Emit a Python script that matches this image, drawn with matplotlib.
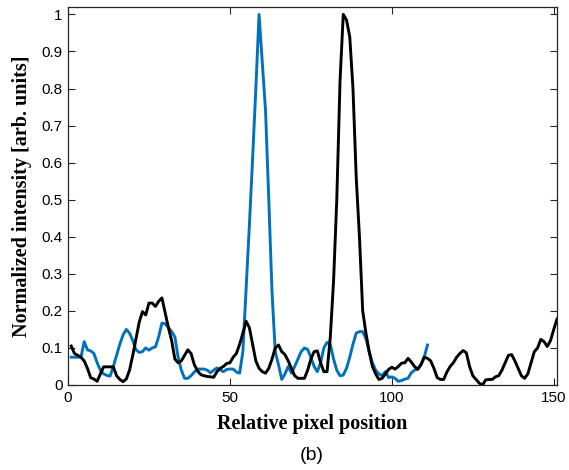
import matplotlib
matplotlib.use("Agg")
import matplotlib.pyplot as plt

# Black curve (relative pixel position, normalized intensity)
black_x = list(range(1, 152))
black_y = [0.105, 0.085, 0.08, 0.075, 0.065, 0.045, 0.02, 0.016, 0.01, 0.03,
           0.049, 0.049, 0.049, 0.049, 0.025, 0.015, 0.009, 0.016, 0.04, 0.08,
           0.125, 0.17, 0.198, 0.189, 0.221, 0.221, 0.212, 0.226, 0.235, 0.195,
           0.155, 0.12, 0.07, 0.06, 0.065, 0.08, 0.095, 0.085, 0.055, 0.038,
           0.028, 0.025, 0.023, 0.022, 0.021, 0.036, 0.045, 0.05, 0.058, 0.06,
           0.075, 0.085, 0.11, 0.14, 0.172, 0.155, 0.11, 0.065, 0.045, 0.036,
           0.032, 0.045, 0.07, 0.1, 0.108, 0.09, 0.082, 0.065, 0.045, 0.025,
           0.018, 0.018, 0.018, 0.04, 0.07, 0.09, 0.092, 0.06, 0.036, 0.036,
           0.13, 0.28, 0.5, 0.82, 1.0, 0.985, 0.94, 0.8, 0.56, 0.4,
           0.2, 0.14, 0.09, 0.05, 0.03, 0.015, 0.018, 0.03, 0.042, 0.048,
           0.043, 0.05, 0.059, 0.06, 0.072, 0.062, 0.05, 0.042, 0.055, 0.075,
           0.072, 0.065, 0.045, 0.02, 0.015, 0.015, 0.035, 0.05, 0.06, 0.075,
           0.085, 0.093, 0.087, 0.05, 0.025, 0.015, 0.005, 0.0, 0.014, 0.015,
           0.015, 0.022, 0.025, 0.04, 0.06, 0.08, 0.082, 0.065, 0.045, 0.025,
           0.018, 0.03, 0.06, 0.09, 0.1, 0.123, 0.117, 0.104, 0.12, 0.15,
           0.178]

# Blue curve
blue_x = list(range(1, 112))
blue_y = [0.075, 0.075, 0.075, 0.075, 0.117, 0.095, 0.092, 0.085, 0.06, 0.04,
          0.03, 0.026, 0.024, 0.05, 0.08, 0.11, 0.135, 0.15, 0.14, 0.12,
          0.095, 0.088, 0.09, 0.1, 0.094, 0.1, 0.103, 0.13, 0.167, 0.165,
          0.155, 0.144, 0.13, 0.075, 0.04, 0.018, 0.018, 0.025, 0.035, 0.043,
          0.043, 0.043, 0.04, 0.033, 0.04, 0.046, 0.041, 0.036, 0.042, 0.043,
          0.043, 0.035, 0.032, 0.09, 0.26, 0.43, 0.61, 0.8, 1.0, 0.87,
          0.74, 0.5, 0.25, 0.09, 0.055, 0.015, 0.03, 0.05, 0.032, 0.05,
          0.07, 0.09, 0.1, 0.096, 0.075, 0.05, 0.036, 0.06, 0.1, 0.115,
          0.11, 0.07, 0.04, 0.025, 0.027, 0.045, 0.075, 0.11, 0.14, 0.144,
          0.144, 0.125, 0.09, 0.06, 0.04, 0.03, 0.025, 0.036, 0.02, 0.022,
          0.018, 0.01, 0.012, 0.016, 0.018, 0.033, 0.04, 0.045, 0.055, 0.075,
          0.108]

x_ticks = [0, 50, 100, 150]
x_tick_labels = ["0", "50", "100", "150"]
y_ticks = [0, 0.1, 0.2, 0.3, 0.4, 0.5, 0.6, 0.7, 0.8, 0.9, 1.0]
y_tick_labels = ["0", "0.1", "0.2", "0.3", "0.4", "0.5", "0.6", "0.7", "0.8", "0.9", "1"]

fig = plt.figure(figsize=(5.69, 4.70), dpi=100)
ax = fig.add_axes([68 / 569, 1 - 385 / 470, (557 - 68) / 569, (385 - 7) / 470])

ax.plot(blue_x, blue_y, color="#0072BD", lw=2.1)
ax.plot(black_x, black_y, color="black", lw=2.1)

ax.set_xlim(0, 151)
ax.set_ylim(0, 1.02)
ax.set_xticks(x_ticks)
ax.set_xticklabels(x_tick_labels, fontsize=11, family="Liberation Sans")
ax.set_yticks(y_ticks)
ax.set_yticklabels(y_tick_labels, fontsize=11, family="Liberation Sans")
ax.tick_params(direction="in", length=5, width=0.8, color="#262626",
               top=True, right=True, pad=4)
for s in ax.spines.values():
    s.set_color("#262626")
    s.set_linewidth(0.9)

ax.set_xlabel("Relative pixel position", fontsize=14.5, fontweight="bold",
              family="Liberation Serif", labelpad=7)
ax.set_ylabel("Normalized intensity [arb. units]", fontsize=14.5, fontweight="bold",
              family="Liberation Serif", labelpad=7)

fig.text(312 / 569, 1 - 455 / 470, "(b)", fontsize=14, family="Liberation Sans",
         ha="center", va="center")

fig.savefig("out.png", dpi=100)
